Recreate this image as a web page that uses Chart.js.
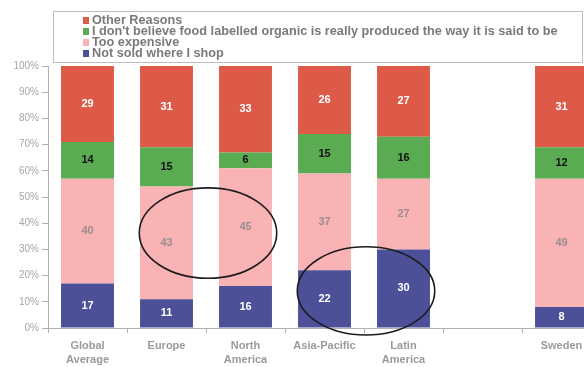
<!DOCTYPE html>
<html>
<head>
<meta charset="utf-8">
<script src="https://cdn.jsdelivr.net/npm/chart.js@4"></script>
<style>
  html, body { margin: 0; padding: 0; background: #fff; overflow: hidden; }
  #wrap { position: absolute; left: 0; top: 0; width: 602px; height: 367px; }
</style>
</head>
<body>
<div id="wrap"><canvas id="chart" width="602" height="367"></canvas></div>
<script>
// Reasons for not buying organic food, share of respondents (%)
const regions = [['Global', 'Average'], 'Europe', ['North', 'America'], 'Asia-Pacific', ['Latin', 'America'], '', 'Sweden'];
const notSold = [17, 11, 16, 22, 30, null, 8];
const tooExpensive = [40, 43, 45, 37, 27, null, 49];
const dontBelieve = [14, 15, 6, 15, 16, null, 12];
const otherReasons = [29, 31, 33, 26, 27, null, 31];
const yTicks = [0, 10, 20, 30, 40, 50, 60, 70, 80, 90, 100];

// circled pairs of bars: category indexes and value range covered
const circled = [
    { from: 1, to: 2, low: 19, high: 53.5 },
    { from: 3, to: 4, low: -2.7, high: 31 }
];

const colors = {
    red: '#dc5a47',
    green: '#5aab52',
    pink: '#f9b3b5',
    blue: '#4b5098'
};

const datasets = [
    { label: 'Not sold where I shop', data: notSold, backgroundColor: colors.blue, valueColor: '#ffffff' },
    { label: 'Too expensive', data: tooExpensive, backgroundColor: colors.pink, valueColor: '#9a8e90' },
    { label: "I don't believe food labelled organic is really produced the way it is said to be", data: dontBelieve, backgroundColor: colors.green, valueColor: '#111111' },
    { label: 'Other Reasons', data: otherReasons, backgroundColor: colors.red, valueColor: '#ffffff' }
];

// numbers inside each segment
const valueLabels = {
    id: 'valueLabels',
    afterDatasetsDraw(chart) {
        const ctx = chart.ctx;
        ctx.save();
        ctx.font = 'bold 11px Arial, "Liberation Sans", sans-serif';
        ctx.textAlign = 'center';
        ctx.textBaseline = 'middle';
        chart.data.datasets.forEach((ds, di) => {
            chart.getDatasetMeta(di).data.forEach((bar, i) => {
                const v = ds.data[i];
                if (v == null) return;
                ctx.fillStyle = ds.valueColor;
                ctx.fillText(String(v), bar.x, (bar.y + bar.base) / 2);
            });
        });
        ctx.restore();
    }
};

// hand-drawn style ellipses around pairs of bars
const ellipses = {
    id: 'ellipses',
    afterDraw(chart) {
        const { ctx, scales: { x, y } } = chart;
        const step = x.getPixelForValue(1) - x.getPixelForValue(0);
        ctx.save();
        ctx.strokeStyle = '#1c1c1c';
        ctx.lineWidth = 1.6;
        circled.forEach(c => {
            const cx = (x.getPixelForValue(c.from) + x.getPixelForValue(c.to)) / 2 + 2;
            const top = y.getPixelForValue(c.high);
            const bottom = y.getPixelForValue(c.low);
            ctx.beginPath();
            ctx.ellipse(cx, (top + bottom) / 2, step * 0.87, (bottom - top) / 2, 0, 0, Math.PI * 2);
            ctx.stroke();
        });
        ctx.restore();
    }
};

// boxed legend, top item first
const boxLegend = {
    id: 'boxLegend',
    afterDraw(chart) {
        const ctx = chart.ctx;
        ctx.save();
        ctx.strokeStyle = '#bcbcbc';
        ctx.lineWidth = 1;
        ctx.strokeRect(53.5, 11.5, 529, 51);
        ctx.font = 'bold 12.7px Arial, "Liberation Sans", sans-serif';
        ctx.textBaseline = 'middle';
        const items = chart.data.datasets.slice().reverse();
        items.forEach((ds, i) => {
            const yMid = 20.5 + i * 11;
            ctx.fillStyle = ds.backgroundColor;
            ctx.fillRect(83, yMid - 3.5, 6, 7);
            ctx.fillStyle = '#7a7a7a';
            ctx.fillText(ds.label, 92, yMid);
        });
        ctx.restore();
    }
};

new Chart(document.getElementById('chart'), {
    type: 'bar',
    data: { labels: regions, datasets: datasets },
    options: {
        responsive: false,
        animation: false,
        layout: { padding: { top: 66, right: 1, left: 0, bottom: 0 } },
        datasets: {
            bar: { categoryPercentage: 1, barPercentage: 0.67 }
        },
        plugins: {
            legend: { display: false },
            tooltip: { enabled: false }
        },
        scales: {
            x: {
                stacked: true,
                grid: { offset: true, drawOnChartArea: false, tickLength: 5, color: '#b0b0b0' },
                border: { color: '#b0b0b0' },
                ticks: {
                    color: '#9a9a9a',
                    font: { family: 'Arial, "Liberation Sans", sans-serif', size: 11, weight: 'bold', lineHeight: 1.3 },
                    maxRotation: 0,
                    autoSkip: false,
                    padding: 6
                },
                afterFit(scale) { scale.height = 39; }
            },
            y: {
                stacked: true,
                min: 0,
                max: 100,
                afterBuildTicks(scale) { scale.ticks = yTicks.map(v => ({ value: v })); },
                grid: { drawOnChartArea: false, tickLength: 6, color: '#b0b0b0' },
                border: { color: '#b0b0b0' },
                ticks: {
                    color: '#a6a6a6',
                    font: { family: 'Arial, "Liberation Sans", sans-serif', size: 10 },
                    padding: 3,
                    callback: v => v + '%'
                },
                afterFit(scale) { scale.width = 48; }
            }
        }
    },
    plugins: [valueLabels, ellipses, boxLegend]
});
</script>
</body>
</html>
